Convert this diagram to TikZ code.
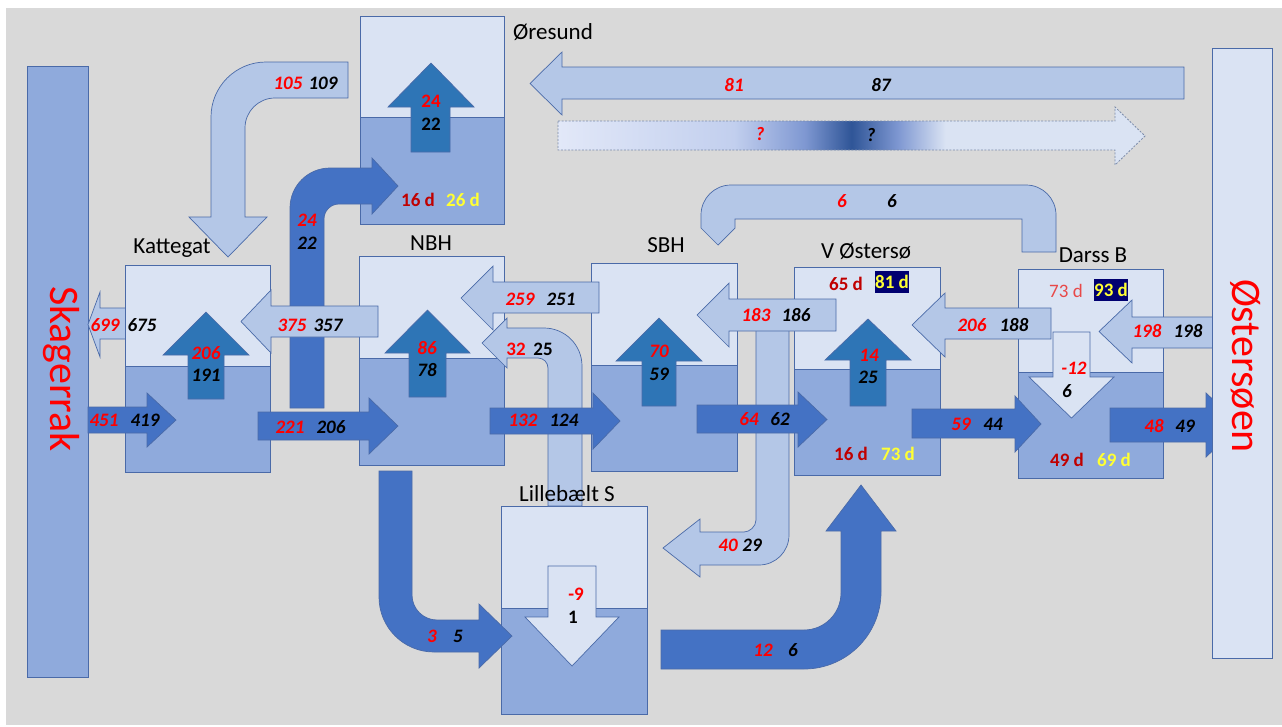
\documentclass[tikz,border=0pt]{standalone}
\usepackage{fontspec}
\setmainfont{Carlito}
\definecolor{bgc}{HTML}{D9D9D9}
\definecolor{ltop}{HTML}{DAE3F3}
\definecolor{mbot}{HTML}{8FAADC}
\definecolor{larc}{HTML}{B4C7E7}
\definecolor{darc}{HTML}{4472C4}
\definecolor{uarc}{HTML}{2E75B6}
\definecolor{outl}{HTML}{4A6AA8}
\definecolor{dred}{HTML}{C00000}
\definecolor{nred}{HTML}{FF0000}
\definecolor{pred}{HTML}{E84848}
\definecolor{ylw}{HTML}{FFFF33}
\definecolor{navy}{HTML}{000070}
\definecolor{ga}{HTML}{E2E8F8}
\definecolor{gb}{HTML}{C2CFEE}
\definecolor{gc}{HTML}{7F98D2}
\definecolor{gd}{HTML}{2F5597}
\definecolor{ge}{HTML}{DAE3F3}
\definecolor{dashc}{HTML}{7A8AA8}
\pgfdeclarehorizontalshading{dashgrad}{100bp}{color(0bp)=(ga); color(25bp)=(ga); color(40bp)=(gb); color(46bp)=(gc); color(50bp)=(gd); color(54bp)=(gc); color(58bp)=(ge); color(100bp)=(ge)}
% horizontal block arrow: style, tail x, head-base x, tip x, body top, body bottom, head top, head bottom
\newcommand{\hblk}[8]{\draw[#1] (#2,#5) -- (#3,#5) -- (#3,#7) -- (#4,{(#7+#8)/2}) -- (#3,#8) -- (#3,#6) -- (#2,#6) -- cycle;}
% vertical block arrow: style, tail y, head-base y, tip y, body left, body right, head left, head right
\newcommand{\vblk}[8]{\draw[#1] (#5,#2) -- (#5,#3) -- (#7,#3) -- ({(#7+#8)/2},#4) -- (#8,#3) -- (#6,#3) -- (#6,#2) -- cycle;}
% basin: x1, top, x2, split, bottom
\newcommand{\basin}[5]{\draw[boxtop] (#1,#2) rectangle (#3,#4); \draw[boxbot] (#1,#4) rectangle (#3,#5);}
\begin{document}
\begin{tikzpicture}[x=1pt,y=-1pt,
  boxtop/.style={fill=ltop,draw=outl,line width=0.7pt},
  boxbot/.style={fill=mbot,draw=outl,line width=0.7pt},
  larr/.style={fill=larc,draw=outl,line width=0.7pt},
  darr/.style={fill=darc,draw=outl,line width=0.7pt},
  uarr/.style={fill=uarc,draw=outl,line width=0.7pt},
  downarr/.style={fill=ltop,draw=outl,line width=0.7pt},
  nb/.style={font=\fontsize{19}{19}\selectfont\bfseries\itshape,inner sep=0pt},
  nu/.style={font=\fontsize{19}{19}\selectfont\bfseries,inner sep=0pt},
  lab/.style={font=\fontsize{23}{23}\selectfont,inner sep=0pt},
  big/.style={font=\fontsize{42}{42}\selectfont,text=nred,rotate=-90,inner sep=0pt},
  navybox/.style={fill=navy,text=ylw,font=\fontsize{19}{19}\selectfont\bfseries,inner sep=0pt,minimum width=34pt,minimum height=22pt}
]
\useasboundingbox (0,0) rectangle (1282,726);
\fill[white] (0,0) rectangle (1282,726);
\fill[bgc] (6,8) rectangle (1282,725);

% Skagerrak bar
\draw[fill=mbot,draw=outl,line width=0.7pt] (27,66) rectangle (88,677);

% arrow to Skagerrak (under Kattegat box)
\hblk{larr}{126}{100}{88}{308}{339}{292}{357}

% basins
\basin{125}{265}{270}{366}{472}
\basin{359}{256}{504}{358}{465}
\basin{591}{263}{737}{365}{471}
\basin{794}{267}{940}{369}{475}
\basin{1018}{269}{1163}{372}{478}
\basin{360}{16}{504}{117}{224}
\basin{501}{506}{647}{608}{714}

% Lillebaelt -> NBH (32 25)
\draw[larr] (548,506) -- (548,368) .. controls (548,362.5) and (543.5,358) .. (538,358)
  -- (507,358) -- (507,368) -- (482,343) -- (507,318) -- (507,328) -- (544,328)
  .. controls (565,328) and (582,345) .. (582,366) -- (582,506) -- cycle;

% V Ostersoe -> Lillebaelt (40 29)
\draw[larr] (756,300) -- (756,520) .. controls (756,526.6) and (749.4,532) .. (744,532)
  -- (700,532) -- (700,519) -- (663,548) -- (700,577) -- (700,565) -- (759,565)
  .. controls (775.6,565) and (789,551.6) .. (789,535) -- (789,300) -- cycle;

% Kattegat -> Oresund (24 22)
\draw[darr] (290,408) -- (290,208) .. controls (290,185.9) and (307.9,168) .. (330,168)
  -- (372,168) -- (372,158) -- (398,186) -- (372,214) -- (372,204) -- (339,204)
  .. controls (330.7,204) and (324,210.7) .. (324,219) -- (324,408) -- cycle;

% Oresund -> Kattegat (105 109)
\draw[larr] (348,62) -- (266,62) .. controls (235.6,62) and (211,86.6) .. (211,117)
  -- (211,217) -- (189,217) -- (228,257) -- (267,217) -- (245,217) -- (245,128)
  .. controls (245,111.4) and (258.4,98) .. (275,98) -- (348,98) -- cycle;

% NBH -> Lillebaelt (3 5)
\draw[darr] (379,471) -- (379,597) .. controls (379,627.4) and (403.6,652) .. (434,652)
  -- (479,652) -- (479,668) -- (512,636) -- (479,604) -- (479,620) -- (437,620)
  .. controls (423.2,620) and (412,608.8) .. (412,595) -- (412,471) -- cycle;

% Lillebaelt -> V Ostersoe (12 6)
\draw[darr] (661,630) -- (804,630) .. controls (824.4,630) and (841,613.4) .. (841,593)
  -- (841,531) -- (826,531) -- (861,485) -- (896,531) -- (881,531) -- (881,592)
  .. controls (881,634.5) and (846.5,669) .. (804,669) -- (661,669) -- cycle;

% Darss -> SBH bracket (6 6)
\draw[larr] (701,228) -- (701,215) .. controls (701,198.4) and (714.4,185) .. (731,185)
  -- (1026,185) .. controls (1042.6,185) and (1056,198.4) .. (1056,215)
  -- (1056,252) -- (1022,252) -- (1022,219) -- (735,219) -- (735,228) -- (718,245) -- cycle;

% Ostersoen -> Oresund (81 87)
\hblk{larr}{1184}{562}{530}{67}{99}{52}{115}
% Oresund -> Ostersoen (? ?)
\shade[shading=dashgrad] (558,121) -- (1115,121) -- (1115,107) -- (1145,136) -- (1115,165) -- (1115,150) -- (558,150) -- cycle;
\draw[draw=dashc,line width=0.8pt,dash pattern=on 2pt off 1.5pt] (558,121) -- (1115,121) -- (1115,107) -- (1145,136) -- (1115,165) -- (1115,150) -- (558,150) -- cycle;

% westward light arrows
\hblk{larr}{378}{271}{241}{306}{337}{290}{353}
\hblk{larr}{599}{493}{461}{282}{313}{266}{330}
\hblk{larr}{836}{729}{697}{299}{331}{283}{347}
\hblk{larr}{1051}{945}{912}{308}{339}{293}{357}
\hblk{larr}{1213}{1132}{1099}{317}{348}{300}{363}

% eastward dark arrows
\hblk{darr}{88}{147}{176}{407}{433}{393}{447}
\hblk{darr}{258}{369}{398}{412}{440}{398}{454}
\hblk{darr}{490}{593}{620}{408}{434}{393}{449}
\hblk{darr}{697}{798}{827}{405}{433}{392}{447}
\hblk{darr}{912}{1015}{1041}{409}{438}{396}{452}
\hblk{darr}{1110}{1206}{1240}{408}{442}{393}{457}

% vertical exchange arrows
\vblk{uarr}{152}{107}{63}{411}{450}{388}{474}
\vblk{uarr}{399}{355}{312}{188}{224}{163}{249}
\vblk{uarr}{397}{353}{310}{409}{446}{385}{470}
\vblk{uarr}{406}{361}{318}{642}{676}{616}{702}
\vblk{uarr}{406}{360}{319}{850}{886}{825}{911}
\vblk{downarr}{332}{377}{418}{1053}{1090}{1029}{1114}
\vblk{downarr}{566}{617}{666}{548}{596}{525}{619}

% Ostersoen bar
\draw[fill=ltop,draw=outl,line width=0.7pt] (1212,48) rectangle (1272,658);

% big labels
\node[big] (skag) at (61,369) {Skagerrak};
\node[big] (ostl) at (1246,366) {Østersøen};

% basin labels
\node[lab] (lkat) at (172,248) {Kattegat};
\node[lab] (lnbh) at (431,243) {NBH};
\node[lab] (lsbh) at (666,245) {SBH};
\node[lab] (lvo) at (866,251) {V Østersø};
\node[lab] (ldar) at (1093,255) {Darss B};
\node[lab] (lore) at (553,32) {Øresund};
\node[lab] (llil) at (567,494) {Lillebælt S};

% residence times
\node[nu,text=dred] (t1) at (418,200) {16 d};
\node[nu,text=ylw] (t2) at (463,200) {26 d};
\node[nu,text=dred] (t3) at (846,284) {65 d};
\node[navybox] (t4) at (892,282) {81 d};
\node[nu,text=dred] (t5) at (851,454) {16 d};
\node[nu,text=ylw] (t6) at (898,454) {73 d};
\node[font=\fontsize{19}{19}\selectfont,inner sep=0pt,text=pred] (t7) at (1066,291) {73 d};
\node[navybox] (t8) at (1111,290) {93 d};
\node[nu,text=dred] (t9) at (1067,460) {49 d};
\node[nu,text=ylw] (t10) at (1114,460) {69 d};

% flow numbers
\node[nb,text=nred] (n1a) at (288,83) {105};
\node[nb] (n1b) at (323,83) {109};
\node[nu,text=nred] (n2a) at (431,101) {24};
\node[nu] (n2b) at (431,124) {22};
\node[nb,text=nred] (n3a) at (307,220) {24};
\node[nb] (n3b) at (307,243) {22};
\node[nb,text=nred] (n4a) at (734,85) {81};
\node[nb] (n4b) at (881,85) {87};
\node[nb,text=nred] (n5a) at (760,134) {?};
\node[nb] (n5b) at (871,135) {?};
\node[nb,text=nred] (n6a) at (842,201) {6};
\node[nb] (n6b) at (892,201) {6};
\node[nb,text=nred] (n7a) at (105,325) {699};
\node[nb] (n7b) at (142,325) {675};
\node[nb,text=nred] (n8a) at (206,353) {206};
\node[nb] (n8b) at (206,375) {191};
\node[nb,text=nred] (n9a) at (292,325) {375};
\node[nb] (n9b) at (328,325) {357};
\node[nb,text=nred] (n10a) at (104,420) {451};
\node[nb] (n10b) at (145,420) {419};
\node[nb,text=nred] (n11a) at (290,427) {221};
\node[nb] (n11b) at (331,427) {206};
\node[nb,text=nred] (n12a) at (427,348) {86};
\node[nb] (n12b) at (427,370) {78};
\node[nb,text=nred] (n13a) at (520,299) {259};
\node[nb] (n13b) at (561,299) {251};
\node[nu,text=nred] (n14a) at (516,349) {32};
\node[nu] (n14b) at (543,349) {25};
\node[nb,text=nred] (n15a) at (523,420) {132};
\node[nb] (n15b) at (564,420) {124};
\node[nb,text=nred] (n16a) at (659,351) {70};
\node[nb] (n16b) at (659,374) {59};
\node[nb,text=nred] (n17a) at (756,315) {183};
\node[nb] (n17b) at (796,315) {186};
\node[nb,text=nred] (n18a) at (749,419) {64};
\node[nb] (n18b) at (780,419) {62};
\node[nb,text=nred] (n19a) at (869,355) {14};
\node[nb] (n19b) at (868,377) {25};
\node[nb,text=nred] (n20a) at (972,325) {206};
\node[nb] (n20b) at (1014,325) {188};
\node[nb,text=nred] (n21a) at (961,424) {59};
\node[nb] (n21b) at (993,424) {44};
\node[nb,text=nred] (n22a) at (1147,331) {198};
\node[nb] (n22b) at (1188,331) {198};
\node[nb,text=nred] (n23a) at (1074,368) {-12};
\node[nb] (n23b) at (1067,391) {6};
\node[nb,text=nred] (n24a) at (1154,426) {48};
\node[nb] (n24b) at (1185,426) {49};
\node[nb,text=nred] (n25a) at (728,545) {40};
\node[nb] (n25b) at (752,545) {29};
\node[nb,text=nred] (n26a) at (763,650) {12};
\node[nb] (n26b) at (793,650) {6};
\node[nb,text=nred] (n27a) at (432,636) {3};
\node[nb] (n27b) at (458,636) {5};
\node[nu,text=nred] (n28a) at (576,594) {-9};
\node[nu] (n28b) at (573,617) {1};
\end{tikzpicture}
\end{document}
